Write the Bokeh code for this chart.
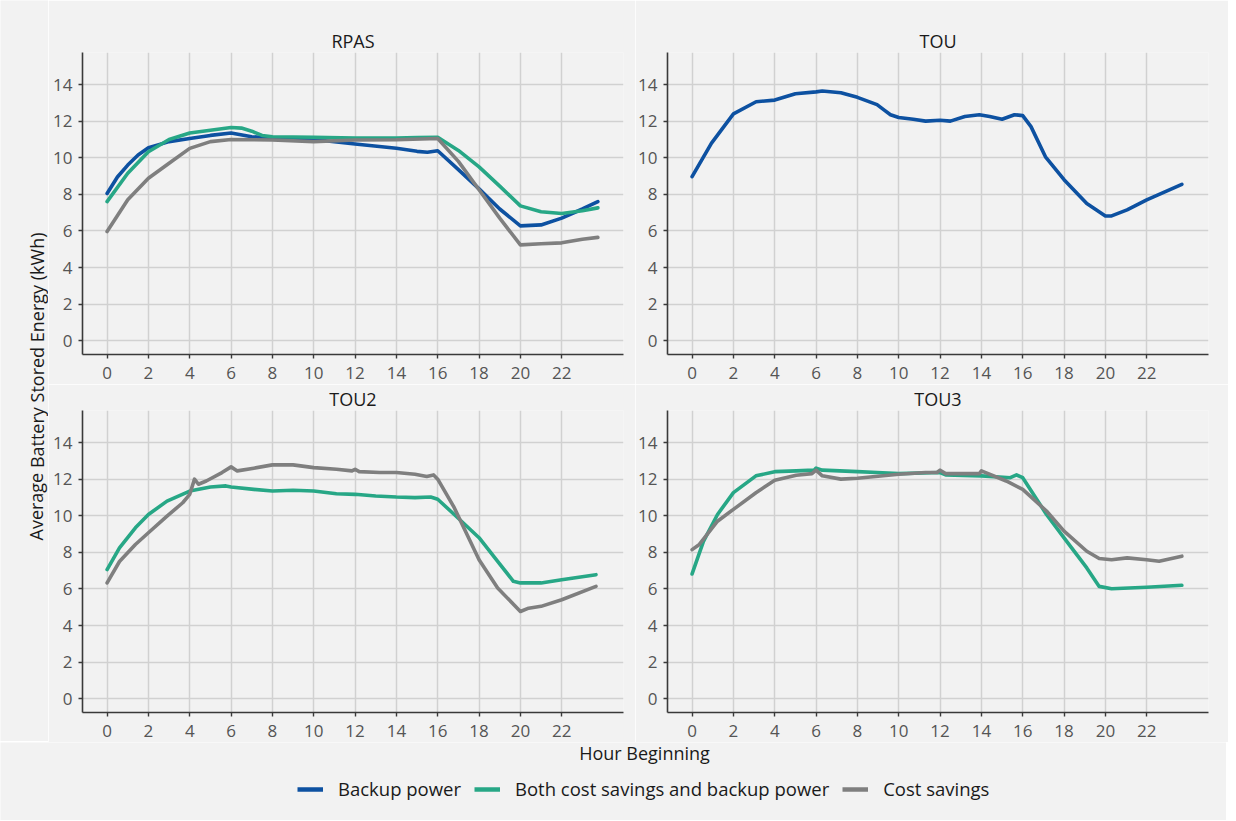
from bokeh.plotting import figure
from bokeh.models import Range1d, FixedTicker, Legend, LegendItem
from bokeh.layouts import row, column
from bokeh.embed import file_html
from bokeh.resources import INLINE
from bokeh.core.properties import value

# ---------------- data ----------------
SERIES_NAMES = ["Backup power", "Both cost savings and backup power", "Cost savings"]
X_TICKS = [0, 2, 4, 6, 8, 10, 12, 14, 16, 18, 20, 22]
Y_TICKS = [0, 2, 4, 6, 8, 10, 12, 14]

# RPAS
rpas_backup_h = [0, 0.5, 1, 1.5, 2, 3, 4, 5, 6, 7, 8, 10, 12, 14, 15, 15.5, 16, 17, 18, 19, 20, 21, 22, 23, 23.75]
rpas_backup_v = [8.05, 8.95, 9.6, 10.15, 10.55, 10.88, 11.05, 11.22, 11.35, 11.15, 11.06, 11.0, 10.75, 10.52, 10.35, 10.3, 10.38, 9.35, 8.3, 7.2, 6.28, 6.33, 6.7, 7.2, 7.6]
rpas_both_h = [0, 1, 2, 3, 4, 5, 6, 6.5, 7, 7.5, 8, 10, 12, 14, 15, 16, 17, 18, 19, 20, 21, 22, 23, 23.75]
rpas_both_v = [7.6, 9.15, 10.33, 11.0, 11.35, 11.5, 11.65, 11.62, 11.45, 11.22, 11.15, 11.12, 11.08, 11.08, 11.1, 11.12, 10.4, 9.5, 8.45, 7.37, 7.05, 6.95, 7.1, 7.26]
rpas_cost_h = [0, 1, 2, 3, 4, 5, 6, 8, 10, 12, 14, 16, 17, 18, 19, 20, 21, 22, 23, 23.75]
rpas_cost_v = [5.97, 7.7, 8.88, 9.7, 10.51, 10.88, 11.0, 10.97, 10.88, 10.97, 10.98, 11.05, 9.8, 8.25, 6.7, 5.24, 5.3, 5.35, 5.55, 5.65]

# TOU
tou_backup_h = [0, 0.94, 2, 3.1, 4, 5, 6, 6.3, 7.2, 8, 8.95, 9.3, 9.6, 10, 10.7, 11.3, 12, 12.5, 13.2, 13.9, 14.4, 15, 15.6, 16, 16.4, 17.1, 18, 19.1, 20, 20.3, 21.05, 22, 23.7]
tou_backup_v = [8.97, 10.8, 12.4, 13.06, 13.15, 13.5, 13.6, 13.65, 13.55, 13.3, 12.9, 12.6, 12.35, 12.2, 12.1, 12.0, 12.05, 12.0, 12.25, 12.35, 12.25, 12.1, 12.35, 12.3, 11.7, 10.05, 8.8, 7.5, 6.82, 6.82, 7.15, 7.7, 8.55]

# TOU2
tou2_both_h = [0, 0.6, 1.37, 2, 2.9, 4, 5, 5.75, 6, 7.1, 8, 9, 10, 11.1, 12, 13, 14, 14.9, 15.66, 16, 16.8, 18, 18.9, 19.66, 20, 21, 22, 23.66]
tou2_both_v = [7.06, 8.25, 9.34, 10.07, 10.8, 11.35, 11.57, 11.63, 11.57, 11.44, 11.35, 11.39, 11.35, 11.2, 11.17, 11.08, 11.02, 10.99, 11.02, 10.9, 10.07, 8.8, 7.51, 6.42, 6.33, 6.33, 6.5, 6.78]
tou2_cost_h = [0, 0.6, 1.37, 2, 2.9, 3.66, 4, 4.23, 4.42, 4.8, 5.56, 6, 6.3, 7.1, 8, 9, 10, 11.1, 11.85, 12, 12.2, 13.2, 14, 14.9, 15.47, 15.8, 16, 16.8, 18, 18.9, 20, 20.4, 21, 22, 23.66]
tou2_cost_v = [6.33, 7.5, 8.43, 9.07, 9.98, 10.71, 11.17, 12.0, 11.72, 11.9, 12.36, 12.67, 12.45, 12.6, 12.78, 12.78, 12.63, 12.54, 12.45, 12.54, 12.41, 12.36, 12.36, 12.27, 12.14, 12.23, 12.0, 10.44, 7.6, 6.05, 4.77, 4.95, 5.05, 5.41, 6.14]

# TOU3
tou3_both_h = [0, 0.55, 1.23, 2, 3.09, 4, 5.04, 5.9, 6, 6.3, 8, 8.95, 10, 12, 12.27, 14, 15.4, 15.7, 16, 17.15, 18, 19.1, 19.7, 20.3, 22, 23.7]
tou3_both_v = [6.82, 8.6, 10.07, 11.26, 12.18, 12.41, 12.45, 12.49, 12.6, 12.49, 12.41, 12.36, 12.3, 12.36, 12.23, 12.18, 12.08, 12.23, 12.08, 10.07, 8.79, 7.15, 6.14, 6.01, 6.09, 6.2]
tou3_cost_h = [0, 0.35, 1.23, 2, 3.09, 4, 5.04, 5.8, 6, 6.3, 7.2, 8, 10, 11.3, 11.85, 12, 12.27, 13.9, 14, 15.2, 16, 17.15, 18, 19.1, 19.7, 20.3, 21.05, 22, 22.6, 23.7]
tou3_cost_v = [8.15, 8.43, 9.7, 10.35, 11.26, 11.94, 12.21, 12.3, 12.49, 12.18, 12.0, 12.05, 12.27, 12.36, 12.36, 12.49, 12.3, 12.3, 12.45, 11.9, 11.44, 10.26, 9.16, 8.06, 7.66, 7.6, 7.7, 7.6, 7.51, 7.79]

PANELS = [
    ("RPAS", [("Backup power", rpas_backup_h, rpas_backup_v),
              ("Both cost savings and backup power", rpas_both_h, rpas_both_v),
              ("Cost savings", rpas_cost_h, rpas_cost_v)]),
    ("TOU", [("Backup power", tou_backup_h, tou_backup_v)]),
    ("TOU2", [("Both cost savings and backup power", tou2_both_h, tou2_both_v),
              ("Cost savings", tou2_cost_h, tou2_cost_v)]),
    ("TOU3", [("Both cost savings and backup power", tou3_both_h, tou3_both_v),
              ("Cost savings", tou3_cost_h, tou3_cost_v)]),
]

# ---------------- styling ----------------
BG = "#f2f2f2"
FONT = "Open Sans"
GRID = "#d1d1d1"
AXIS = "#3a3a3a"
TICK_TXT = "#555555"
COLORS = {"Backup power": "#0d51a1",
          "Both cost savings and backup power": "#27a786",
          "Cost savings": "#7f7f7f"}

FW, FH = 541, 302


def panel(title, series, left, right, top, bottom):
    p = figure(frame_width=FW, frame_height=FH,
               x_range=Range1d(-1.19, 24.99), y_range=Range1d(-0.75, 15.75),
               output_backend="svg", toolbar_location=None,
               min_border_left=left, min_border_right=right,
               min_border_top=top, min_border_bottom=bottom,
               background_fill_color=BG, border_fill_color=BG,
               outline_line_color=None)
    p.title.text = title
    p.title.align = "center"
    p.title.text_font = FONT
    p.title.text_font_size = "18px"
    p.title.text_font_style = "normal"
    p.title.text_color = "#1a1a1a"
    p.title.standoff = 0

    p.xaxis.ticker = FixedTicker(ticks=X_TICKS)
    p.yaxis.ticker = FixedTicker(ticks=Y_TICKS)
    p.xgrid.ticker = FixedTicker(ticks=X_TICKS)
    p.ygrid.ticker = FixedTicker(ticks=Y_TICKS)
    for g in (p.xgrid, p.ygrid):
        g.grid_line_color = GRID
        g.grid_line_width = 1.5
    for ax in (p.xaxis, p.yaxis):
        ax.axis_line_color = AXIS
        ax.axis_line_width = 1.6
        ax.major_tick_line_color = AXIS
        ax.major_tick_line_width = 1.4
        ax.major_tick_out = 4
        ax.major_tick_in = 0
        ax.minor_tick_out = 0
        ax.minor_tick_in = 0
        ax.major_label_text_font = FONT
        ax.major_label_text_font_size = "17px"
        ax.major_label_text_color = TICK_TXT
    p.xaxis.major_label_standoff = 8
    p.yaxis.major_label_standoff = 6

    for name, hs, vs in series:
        p.line(hs, vs, line_color=COLORS[name], line_width=3.6,
               line_join="round", line_cap="round")
    return p


TL = panel(PANELS[0][0], PANELS[0][1], left=34, right=12, top=52, bottom=30)
TR = panel(PANELS[1][0], PANELS[1][1], left=30, right=20, top=52, bottom=30)
BL = panel(PANELS[2][0], PANELS[2][1], left=34, right=12, top=25, bottom=30)
BR = panel(PANELS[3][0], PANELS[3][1], left=30, right=20, top=25, bottom=30)

# y-axis title column
YH = 384 + 357
yfig = figure(width=48, height=YH, x_range=Range1d(0, 48), y_range=Range1d(0, YH),
              output_backend="svg", toolbar_location=None, min_border=0,
              background_fill_color=BG, border_fill_color=BG, outline_line_color=None)
yfig.axis.visible = False
yfig.grid.visible = False
yfig.text(x=[36], y=[YH - 386], text=["Average Battery Stored Energy (kWh)"],
          angle=1.5707963, text_align="center", text_baseline="middle",
          text_font=value(FONT), text_font_size="18px", text_color="#1a1a1a")

# bottom: x title + legend
LW, LH = 48 + 587 + 591, 78
lfig = figure(width=LW, height=LH, x_range=Range1d(0, LW), y_range=Range1d(0, LH),
              output_backend="svg", toolbar_location=None, min_border=0,
              background_fill_color=BG, border_fill_color=BG, outline_line_color=None)
lfig.axis.visible = False
lfig.grid.visible = False
lfig.text(x=[644], y=[LH - 10], text=["Hour Beginning"], text_align="center",
          text_baseline="middle", text_font=value(FONT), text_font_size="18px",
          text_color="#1a1a1a")
nan = float("nan")
items = []
for name in SERIES_NAMES:
    r = lfig.line([nan], [nan], line_color=COLORS[name], line_width=4.5)
    items.append(LegendItem(label=name, renderers=[r]))
legend = Legend(items=items, orientation="horizontal", location=(297, 19),
                background_fill_alpha=0, border_line_color=None,
                label_text_font=FONT, label_text_font_size="18.5px", label_text_color="#1a1a1a",
                glyph_width=26, glyph_height=20, label_standoff=15, spacing=13,
                padding=4, margin=0)
lfig.add_layout(legend, "center")

layout = column(row(yfig, column(row(TL, TR), row(BL, BR))), lfig)

html = file_html(layout, INLINE)
html = html.replace("<body>", '<body style="background-color:%s;">' % BG, 1)
open("out.html", "w").write(html)
